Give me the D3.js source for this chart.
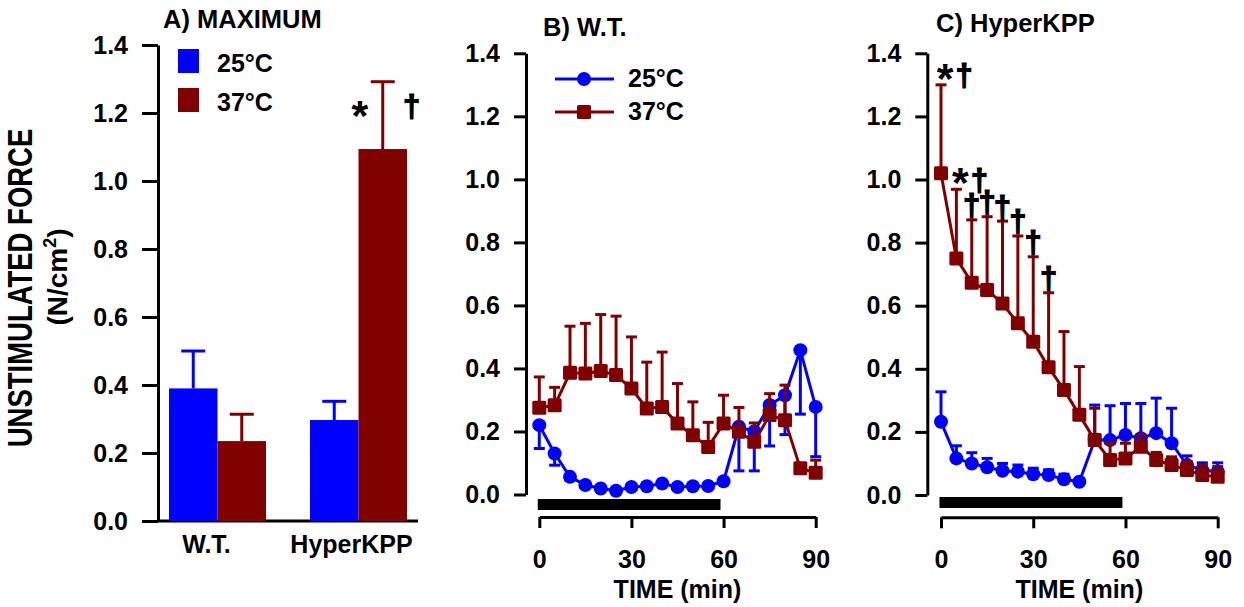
<!DOCTYPE html>
<html>
<head>
<meta charset="utf-8">
<script src="https://cdn.jsdelivr.net/npm/d3@7"></script>
<style>
  body { margin: 0; background: #fff; }
  svg text { font-family: "Liberation Sans", Arial, Helvetica, sans-serif; font-weight: bold; fill: #000; }
</style>
</head>
<body>
<svg id="chart" width="1244" height="607"></svg>
<script>
// ---- data ----
const temps = ["25°C", "37°C"];
const groups = ["W.T.", "HyperKPP"];

// A) maximum unstimulated force, mean and SEM
const max25 = [0.39, 0.297];
const max25Sem = [0.11, 0.055];
const max37 = [0.235, 1.094];
const max37Sem = [0.079, 0.198];

const times = [0, 5, 10, 15, 20, 25, 30, 35, 40, 45, 50, 55, 60, 65, 70, 75, 80, 85, 90];

// B) W.T.  (25°C error bars drawn downward)
const wt25 = [0.22, 0.13, 0.056, 0.03, 0.019, 0.012, 0.024, 0.026, 0.035, 0.024, 0.026, 0.027, 0.042, 0.215, 0.20, 0.284, 0.315, 0.458, 0.278];
const wt25Sem = [0.074, 0.037, 0.01, 0.008, 0.006, 0.005, 0.006, 0.006, 0.007, 0.006, 0.006, 0.006, 0.008, 0.14, 0.125, 0.13, 0.125, 0.203, 0.158];
const wt37 = [0.275, 0.283, 0.386, 0.384, 0.392, 0.379, 0.336, 0.273, 0.278, 0.225, 0.188, 0.151, 0.225, 0.199, 0.167, 0.252, 0.236, 0.083, 0.069];
const wt37Sem = [0.098, 0.057, 0.148, 0.159, 0.179, 0.187, 0.164, 0.147, 0.174, 0.127, 0.106, 0.078, 0.09, 0.077, 0.06, 0.068, 0.111, 0.015, 0.04];

// C) HyperKPP
const hk25 = [0.232, 0.116, 0.10, 0.088, 0.077, 0.074, 0.066, 0.063, 0.05, 0.042, 0.174, 0.174, 0.19, 0.18, 0.196, 0.164, 0.095, 0.079, 0.074];
const hk25Sem = [0.095, 0.04, 0.034, 0.028, 0.023, 0.021, 0.019, 0.017, 0.016, 0.01, 0.111, 0.109, 0.10, 0.11, 0.111, 0.111, 0.029, 0.023, 0.028];
const hk37 = [1.02, 0.75, 0.673, 0.65, 0.607, 0.544, 0.486, 0.405, 0.333, 0.254, 0.174, 0.111, 0.116, 0.153, 0.111, 0.095, 0.079, 0.063, 0.058];
const hk37Sem = [0.28, 0.219, 0.199, 0.232, 0.261, 0.277, 0.269, 0.236, 0.185, 0.153, 0.101, 0.053, 0.048, 0.037, 0.024, 0.026, 0.027, 0.032, 0.032];

// significance marks in C
const markTimes = [0, 5, 10, 15, 20, 25, 30, 35];
const markLabels = ["*†", "*†", "†", "†", "†", "†", "†", "†"];

const exposure = [-0.5, 59];   // black bar, minutes
const yTicks = [0, 0.2, 0.4, 0.6, 0.8, 1.0, 1.2, 1.4];
const xTicks = [0, 30, 60, 90];

const BLUE = "#0000ff", RED = "#800000";
const svg = d3.select("#chart");

function styleAxis(g) {
  g.selectAll("path, line").attr("stroke", "#000").attr("stroke-width", 3);
  g.selectAll("text").style("font-size", "25px");
}

// big asterisk, placed by its visual centre
function star(x, yCenter) {
  svg.append("text").attr("x", x).attr("y", yCenter + 19.6)
    .attr("text-anchor", "middle").style("font-size", "43px").text("*");
}
// dagger, placed by the bottom of the glyph (stroked a bit to look heavier)
function dagger(x, yBottom) {
  svg.append("text").attr("x", x).attr("y", yBottom)
    .attr("text-anchor", "middle").style("font-size", "31px")
    .attr("stroke", "#000").attr("stroke-width", 1.2).text("†");
}

// ---- y title ----
svg.append("text").attr("transform", "translate(32,288) rotate(-90) scale(1,1.25)")
  .attr("text-anchor", "middle").style("font-size", "27.5px").text("UNSTIMULATED FORCE");
const yt2 = svg.append("text").attr("transform", "translate(67,277) rotate(-90)")
  .attr("text-anchor", "middle").style("font-size", "28px");
yt2.append("tspan").text("(N/cm");
yt2.append("tspan").attr("dy", -11).style("font-size", "18px").text("2");
yt2.append("tspan").attr("dy", 11).text(")");

// ---- panel A ----
(function () {
  const y = d3.scaleLinear().domain([0, 1.4]).range([521, 45]);
  const x = d3.scaleBand().domain(groups).range([169, 407]).paddingInner(0.312);
  const xi = d3.scaleBand().domain(temps).range([0, x.bandwidth()]);
  const axX = 158;

  const gy = svg.append("g").attr("transform", `translate(${axX},0)`)
    .call(d3.axisLeft(y).tickValues(yTicks).tickFormat(d3.format(".1f")).tickSize(16).tickPadding(14).tickSizeOuter(0));
  styleAxis(gy);
  svg.append("line").attr("x1", axX).attr("x2", 418).attr("y1", y(0)).attr("y2", y(0))
    .attr("stroke", "#000").attr("stroke-width", 3);

  const rows = groups.map((g, i) => [
    { g, t: temps[0], v: max25[i], e: max25Sem[i], c: BLUE },
    { g, t: temps[1], v: max37[i], e: max37Sem[i], c: RED }
  ]).flat();
  const cx = d => x(d.g) + xi(d.t) + xi.bandwidth() / 2;

  svg.append("g").selectAll("line").data(rows).join("line")
    .attr("x1", cx).attr("x2", cx)
    .attr("y1", d => y(d.v)).attr("y2", d => y(d.v + d.e))
    .attr("stroke", d => d.c).attr("stroke-width", 3);
  svg.append("g").selectAll("line").data(rows).join("line")
    .attr("x1", d => cx(d) - 12).attr("x2", d => cx(d) + 12)
    .attr("y1", d => y(d.v + d.e)).attr("y2", d => y(d.v + d.e))
    .attr("stroke", d => d.c).attr("stroke-width", 3);
  svg.append("g").selectAll("rect").data(rows).join("rect")
    .attr("x", d => x(d.g) + xi(d.t)).attr("width", xi.bandwidth())
    .attr("y", d => y(d.v)).attr("height", d => y(0) - y(d.v))
    .attr("fill", d => d.c);

  svg.append("g").selectAll("text").data(groups).join("text")
    .attr("x", (d, i) => x(d) + x.bandwidth() / 2 - (i ? 7 : 11)).attr("y", 553)
    .attr("text-anchor", "middle").style("font-size", "25px").text(d => d);

  // significance on HyperKPP 37
  const c37 = cx(rows[3]);
  star(c37 - 23, 110);
  dagger(c37 + 29, 117);

  // legend
  [BLUE, RED].forEach((c, i) => {
    svg.append("rect").attr("x", 178).attr("y", 49 + i * 39).attr("width", 21).attr("height", 24).attr("fill", c);
    svg.append("text").attr("x", 217).attr("y", 72 + i * 39).style("font-size", "25px").text(temps[i]);
  });

  svg.append("text").attr("x", 163).attr("y", 28).style("font-size", "25.5px").text("A) MAXIMUM");
})();

// ---- time panels ----
function timePanel(cfg) {
  const y = d3.scaleLinear().domain([0, 1.4]).range([cfg.y0, 53.3]);
  const x = d3.scaleLinear().domain([0, 90]).range(cfg.xr);

  const gy = svg.append("g").attr("transform", `translate(${cfg.axX},0)`)
    .call(d3.axisLeft(y).tickValues(yTicks).tickFormat(d3.format(".1f")).tickSize(12).tickPadding(14).tickSizeOuter(0));
  styleAxis(gy);
  const gx = svg.append("g").attr("transform", `translate(0,${cfg.axY})`)
    .call(d3.axisBottom(x).tickValues(xTicks).tickSize(11).tickPadding(22).tickSizeOuter(0));
  styleAxis(gx);

  svg.append("text").attr("x", (cfg.xr[0] + cfg.xr[1]) / 2).attr("y", 598)
    .attr("text-anchor", "middle").style("font-size", "25px").text("TIME (min)");

  svg.append("rect").attr("x", x(exposure[0])).attr("width", x(exposure[1]) - x(exposure[0]))
    .attr("y", cfg.barY).attr("height", 11).attr("fill", "#000");

  cfg.series.forEach(s => {
    const pts = times.map((t, i) => ({ t, v: s.mean[i], e: s.sem[i] * s.dir }));
    const g = svg.append("g");
    g.selectAll("line.eb").data(pts).join("line")
      .attr("x1", d => x(d.t)).attr("x2", d => x(d.t))
      .attr("y1", d => y(d.v)).attr("y2", d => y(d.v + d.e))
      .attr("stroke", s.color).attr("stroke-width", 3);
    g.selectAll("line.cap").data(pts).join("line")
      .attr("x1", d => x(d.t) - 5.5).attr("x2", d => x(d.t) + 5.5)
      .attr("y1", d => y(d.v + d.e)).attr("y2", d => y(d.v + d.e))
      .attr("stroke", s.color).attr("stroke-width", 3);
    g.append("path").datum(pts)
      .attr("d", d3.line().x(d => x(d.t)).y(d => y(d.v)))
      .attr("fill", "none").attr("stroke", s.color).attr("stroke-width", 3);
    if (s.shape === "circle") {
      g.selectAll("circle").data(pts).join("circle")
        .attr("cx", d => x(d.t)).attr("cy", d => y(d.v)).attr("r", 7).attr("fill", s.color);
    } else {
      g.selectAll("rect").data(pts).join("rect")
        .attr("x", d => x(d.t) - 7).attr("y", d => y(d.v) - 7)
        .attr("width", 14).attr("height", 14).attr("rx", 1.5).attr("fill", s.color);
    }
  });

  svg.append("text").attr("x", cfg.titleX).attr("y", cfg.titleY).style("font-size", "25.5px").text(cfg.title);
  return { x, y };
}

const pB = timePanel({
  title: "B) W.T.", titleX: 543, titleY: 36,
  axX: 526, axY: 517, y0: 494.5, xr: [539.3, 815.7], barY: 499,
  series: [
    { mean: wt25, sem: wt25Sem, dir: -1, color: BLUE, shape: "circle" },
    { mean: wt37, sem: wt37Sem, dir: 1, color: RED, shape: "square" }
  ]
});

// legend B
[BLUE, RED].forEach((c, i) => {
  const ly = 79 + i * 33;
  svg.append("line").attr("x1", 555).attr("x2", 614).attr("y1", ly).attr("y2", ly)
    .attr("stroke", c).attr("stroke-width", 3);
  if (i === 0) svg.append("circle").attr("cx", 584).attr("cy", ly).attr("r", 7).attr("fill", c);
  else svg.append("rect").attr("x", 577).attr("y", ly - 7).attr("width", 14).attr("height", 14).attr("rx", 1.5).attr("fill", c);
  svg.append("text").attr("x", 628).attr("y", ly + 8).style("font-size", "25px").text(temps[i]);
});

const pC = timePanel({
  title: "C) HyperKPP", titleX: 936, titleY: 32,
  axX: 927.3, axY: 517.3, y0: 495, xr: [941, 1217.7], barY: 497,
  series: [
    { mean: hk25, sem: hk25Sem, dir: 1, color: BLUE, shape: "circle" },
    { mean: hk37, sem: hk37Sem, dir: 1, color: RED, shape: "square" }
  ]
});

markTimes.forEach((t, k) => {
  const i = times.indexOf(t);
  const capY = pC.y(hk37[i] + hk37Sem[i]);
  if (markLabels[k].startsWith("*")) {
    star(pC.x(t) + 4, capY - 11.5);
    dagger(pC.x(t) + 23, capY + 1.5);
  } else {
    dagger(pC.x(t), capY - 3.5);
  }
});
</script>
</body>
</html>
